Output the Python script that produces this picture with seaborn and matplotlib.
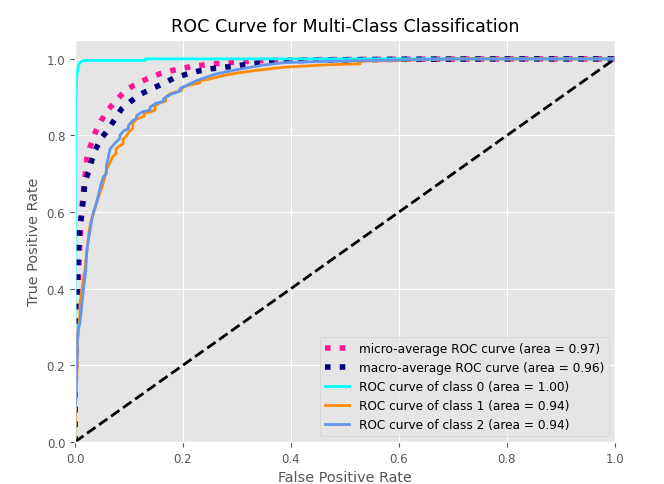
import numpy as np
import pandas as pd
import matplotlib
matplotlib.use("Agg")
import matplotlib.pyplot as plt
import seaborn as sns

# values
micro_fpr = [0, 0, 0.002, 0.004, 0.006, 0.009, 0.012, 0.016, 0.0185, 0.022, 0.028,
             0.034, 0.041, 0.049, 0.06, 0.071, 0.085, 0.099, 0.11, 0.123, 0.14, 0.157,
             0.175, 0.194, 0.22, 0.256, 0.3, 0.35, 0.45, 0.6, 0.8, 1.0]
micro_tpr = [0, 0.15, 0.25, 0.33, 0.42, 0.52, 0.60, 0.66, 0.69, 0.74, 0.77,
             0.795, 0.82, 0.84, 0.865, 0.883, 0.905, 0.922, 0.932, 0.941, 0.952, 0.961,
             0.968, 0.974, 0.981, 0.987, 0.992, 0.996, 0.998, 0.999, 1.0, 1.0]

macro_fpr = [0, 0, 0.002, 0.004, 0.006, 0.009, 0.012, 0.015, 0.0185, 0.025, 0.031,
             0.037, 0.049, 0.062, 0.074, 0.086, 0.105, 0.123, 0.142, 0.164, 0.182,
             0.204, 0.228, 0.25, 0.3, 0.343, 0.392, 0.45, 0.6, 0.8, 1.0]
macro_tpr = [0, 0.12, 0.3, 0.4, 0.5, 0.565, 0.59, 0.63, 0.68, 0.705, 0.735,
             0.761, 0.793, 0.817, 0.843, 0.869, 0.891, 0.909, 0.922, 0.936, 0.949,
             0.959, 0.968, 0.974, 0.982, 0.99, 0.995, 0.997, 0.999, 1.0, 1.0]

class0_fpr = [0, 0, 0.001, 0.002, 0.003, 0.005, 0.008, 0.012, 0.02, 0.13, 0.13, 1.0]
class0_tpr = [0, 0.4, 0.75, 0.9, 0.95, 0.975, 0.988, 0.994, 0.996, 0.996, 1.0, 1.0]

class1_fpr = [0, 0, 0.002, 0.004, 0.004, 0.006, 0.009, 0.009, 0.012, 0.015, 0.0185,
              0.022, 0.026, 0.03, 0.035, 0.04, 0.045, 0.05, 0.055, 0.059, 0.065,
              0.07, 0.076, 0.076, 0.082, 0.089, 0.089, 0.095, 0.1, 0.107, 0.107,
              0.114, 0.12, 0.128, 0.128, 0.139, 0.148, 0.148, 0.158, 0.168, 0.168,
              0.176, 0.188, 0.198, 0.198, 0.207, 0.22, 0.231, 0.231, 0.245, 0.262,
              0.28, 0.3, 0.33, 0.36, 0.386, 0.42, 0.46, 0.5, 0.528, 0.528, 0.6,
              0.65, 0.7, 1.0]
class1_tpr = [0, 0.03, 0.12, 0.2, 0.26, 0.3, 0.33, 0.36, 0.39, 0.42, 0.45,
              0.5, 0.55, 0.58, 0.6, 0.625, 0.645, 0.665, 0.69, 0.713, 0.73,
              0.745, 0.752, 0.765, 0.772, 0.778, 0.79, 0.798, 0.81, 0.818, 0.832,
              0.843, 0.846, 0.85, 0.858, 0.861, 0.866, 0.878, 0.885, 0.89, 0.9,
              0.909, 0.914, 0.918, 0.924, 0.93, 0.934, 0.937, 0.943, 0.946, 0.952,
              0.958, 0.963, 0.969, 0.974, 0.978, 0.981, 0.984, 0.986, 0.987, 0.994,
              0.996, 0.998, 1.0, 1.0]

class2_fpr = [0, 0.002, 0.004, 0.004, 0.006, 0.009, 0.012, 0.015, 0.02, 0.0216, 0.025,
              0.03, 0.034, 0.04, 0.046, 0.052, 0.058, 0.058, 0.065, 0.074, 0.083,
              0.083, 0.09, 0.099, 0.099, 0.106, 0.114, 0.114, 0.125, 0.139, 0.139,
              0.15, 0.164, 0.164, 0.178, 0.194, 0.194, 0.21, 0.225, 0.245, 0.262,
              0.29, 0.32, 0.35, 0.386, 0.45, 0.52, 0.6, 0.7, 1.0]
class2_tpr = [0.07, 0.15, 0.22, 0.26, 0.29, 0.31, 0.35, 0.39, 0.45, 0.495, 0.53,
              0.57, 0.6, 0.625, 0.66, 0.691, 0.7, 0.72, 0.765, 0.78, 0.792,
              0.8, 0.812, 0.818, 0.826, 0.838, 0.845, 0.852, 0.862, 0.866, 0.874,
              0.884, 0.889, 0.896, 0.908, 0.915, 0.922, 0.933, 0.943, 0.953, 0.961,
              0.969, 0.977, 0.984, 0.99, 0.993, 0.995, 0.997, 1.0, 1.0]

labels = [
    "micro-average ROC curve (area = 0.97)",
    "macro-average ROC curve (area = 0.96)",
    "ROC curve of class 0 (area = 1.00)",
    "ROC curve of class 1 (area = 0.94)",
    "ROC curve of class 2 (area = 0.94)",
]
colors = ["deeppink", "navy", "aqua", "darkorange", "cornflowerblue"]
styles = [":", ":", "-", "-", "-"]
widths = [4, 4, 2, 2, 2]

curves = [
    (micro_fpr, micro_tpr),
    (macro_fpr, macro_tpr),
    (class0_fpr, class0_tpr),
    (class1_fpr, class1_tpr),
    (class2_fpr, class2_tpr),
]

plt.style.use("ggplot")
fig = plt.figure(figsize=(6.64, 4.85), dpi=100)
ax = fig.add_axes([0.113, 0.087, 0.813, 0.829])

for (fpr, tpr), lab, col, ls, lw in zip(curves, labels, colors, styles, widths):
    df = pd.DataFrame({"fpr": fpr, "tpr": tpr})
    sns.lineplot(data=df, x="fpr", y="tpr", sort=False, estimator=None,
                 color=col, linestyle=ls, linewidth=lw, label=lab, ax=ax)

diag = pd.DataFrame({"fpr": [0, 1], "tpr": [0, 1]})
sns.lineplot(data=diag, x="fpr", y="tpr", color="k", linestyle="--",
             linewidth=2, ax=ax)

ax.set_xlim(0.0, 1.0)
ax.set_ylim(0.0, 1.05)
ax.set_xlabel("False Positive Rate", fontsize=10.4)
ax.set_ylabel("True Positive Rate", fontsize=10.4)
ax.set_title("ROC Curve for Multi-Class Classification", fontsize=12.6)
ax.tick_params(labelsize=8.5)
ax.legend(loc="lower right", fontsize=8.7)

plt.savefig("out.png", dpi=100)
